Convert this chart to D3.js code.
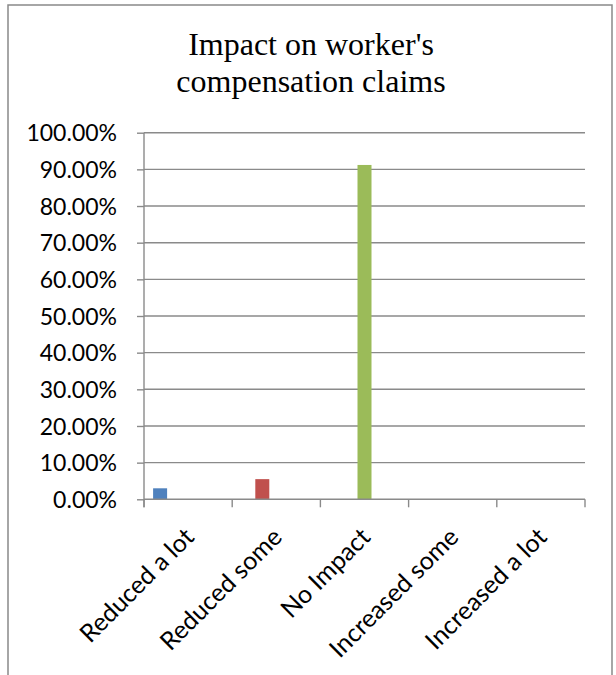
<!DOCTYPE html>
<html>
<head>
<meta charset="utf-8">
<script src="https://cdn.jsdelivr.net/npm/d3@7"></script>
<style>
  html, body { margin: 0; padding: 0; background: #fff; }
  svg { display: block; }
</style>
</head>
<body>
<svg id="chart" width="616" height="675"></svg>
<script>
// Survey answers (one series per answer, each shown in its own category)
const categories = ["Reduced a lot", "Reduced some", "No Impact", "Increased some", "Increased a lot"];
const values = [3.0, 5.5, 91.2, 0, 0];
const colors = ["#4F81BD", "#C0504D", "#9BBB59", "#8064A2", "#4BACC6"];
const yTicks = [0, 10, 20, 30, 40, 50, 60, 70, 80, 90, 100];
const title = ["Impact on worker's", "compensation claims"];

const svg = d3.select("#chart");
const plot = { left: 144, right: 585, top: 132.7, bottom: 499.3 };
const labelFont = "Lato, 'Open Sans', sans-serif";
const gridColor = "#8a8a8a";

// outer frame of the chart area
svg.append("rect")
  .attr("x", 8).attr("y", 5)
  .attr("width", 604).attr("height", 700)
  .attr("fill", "#fff")
  .attr("stroke", "#898989").attr("stroke-width", 1.5);

// title
svg.append("g").selectAll("text").data(title).join("text")
  .attr("x", 311)
  .attr("y", (d, i) => 55 + i * 37)
  .attr("text-anchor", "middle")
  .attr("font-family", "'Liberation Serif', 'Times New Roman', serif")
  .attr("font-size", 32)
  .attr("fill", "#000")
  .text(d => d);

const x = d3.scaleBand().domain(categories).range([plot.left, plot.right]).padding(0);
const xs = d3.scaleBand().domain(d3.range(categories.length))
  .range([0, x.bandwidth()]).paddingInner(0).paddingOuter(0.65);
const y = d3.scaleLinear().domain([0, 100]).range([plot.bottom, plot.top]);

// horizontal gridlines
svg.append("g").selectAll("line").data(yTicks.filter(d => d > 0)).join("line")
  .attr("x1", plot.left).attr("x2", plot.right)
  .attr("y1", d => y(d)).attr("y2", d => y(d))
  .attr("stroke", gridColor).attr("stroke-width", 1.4);

// y axis
const yAxis = svg.append("g")
  .attr("transform", `translate(${plot.left},0)`)
  .call(d3.axisLeft(y).tickValues(yTicks).tickSize(7).tickPadding(20)
    .tickFormat(d => d.toFixed(2) + "%"));
yAxis.select(".domain").remove();
yAxis.selectAll(".tick line").attr("stroke", gridColor).attr("stroke-width", 1.4);
yAxis.selectAll(".tick text")
  .attr("font-family", labelFont).attr("font-size", 23).attr("fill", "#000")
  .attr("dy", "0.36em");
yAxis.append("line")
  .attr("x1", 0).attr("x2", 0)
  .attr("y1", plot.top).attr("y2", plot.bottom + 8)
  .attr("stroke", gridColor).attr("stroke-width", 1.4);

// bars: each series sits at its own slot inside its category
svg.append("g").selectAll("rect").data(values).join("rect")
  .attr("x", (d, i) => x(categories[i]) + xs(i))
  .attr("width", xs.bandwidth())
  .attr("y", d => y(d))
  .attr("height", d => y(0) - y(d))
  .attr("fill", (d, i) => colors[i]);

// x axis line with category boundary ticks
const xg = svg.append("g");
xg.append("line")
  .attr("x1", plot.left).attr("x2", plot.right)
  .attr("y1", plot.bottom).attr("y2", plot.bottom)
  .attr("stroke", gridColor).attr("stroke-width", 1.4);
const bounds = categories.map(c => x(c)).concat([plot.right]);
xg.selectAll("line.b").data(bounds).join("line").attr("class", "b")
  .attr("x1", d => d).attr("x2", d => d)
  .attr("y1", plot.bottom).attr("y2", plot.bottom + 8)
  .attr("stroke", gridColor).attr("stroke-width", 1.4);

// rotated category labels
xg.selectAll("text").data(categories).join("text")
  .attr("transform", d => `translate(${x(d) + x.bandwidth() / 2 - 5},${plot.bottom + 27}) rotate(-45)`)
  .attr("text-anchor", "end")
  .attr("dy", "0.7em")
  .attr("font-family", labelFont).attr("font-size", 25).attr("fill", "#000")
  .text(d => d);
</script>
</body>
</html>
